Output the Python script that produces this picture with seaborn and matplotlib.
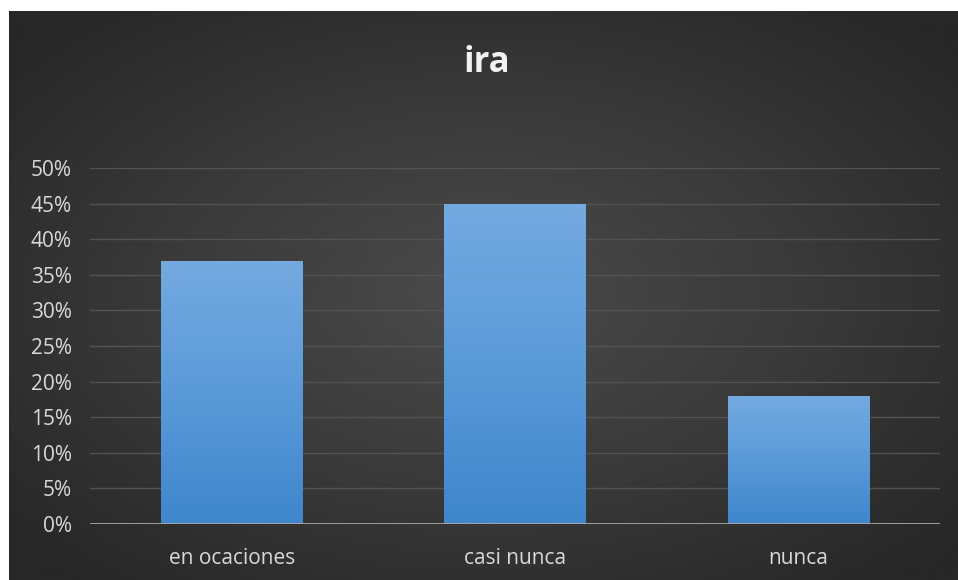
import numpy as np
import pandas as pd
import seaborn as sns
import matplotlib.pyplot as plt
from matplotlib.colors import LinearSegmentedColormap

# chart data
categories = ['en ocaciones', 'casi nunca', 'nunca']
values = [0.37, 0.45, 0.18]
y_ticks = [0, 0.05, 0.10, 0.15, 0.20, 0.25, 0.30, 0.35, 0.40, 0.45, 0.50]
y_tick_labels = ['0%', '5%', '10%', '15%', '20%', '25%', '30%', '35%', '40%', '45%', '50%']
title = 'ira'

df = pd.DataFrame({'cat': categories, 'val': values})

sns.set_style('dark')
plt.rcParams['font.family'] = ['Open Sans', 'DejaVu Sans']

fig = plt.figure(figsize=(9.58, 5.80), dpi=100)
fig.patch.set_facecolor('white')

# dark radial background
bg = fig.add_axes([9 / 958, 0, 949 / 958, 569 / 580])
yy, xx = np.mgrid[-1:1:300j, -1:1:500j]
r = np.sqrt((xx * 0.95) ** 2 + (yy * 0.95) ** 2)
bg_cmap = LinearSegmentedColormap.from_list('bg', ['#4b4b4b', '#3a3a3a', '#272727'])
bg.imshow(np.clip(r / 1.25, 0, 1), cmap=bg_cmap, aspect='auto', extent=[0, 1, 0, 1], vmin=0, vmax=1)
bg.set_axis_off()

ax = fig.add_axes([90 / 958, 56 / 580, 850 / 958, 356 / 580])
ax.patch.set_alpha(0)
sns.barplot(data=df, x='cat', y='val', color='#5b9bd5', width=0.5, ax=ax,
            zorder=3, edgecolor='none', linewidth=0)

# vertical gradient inside bars
bar_cmap = LinearSegmentedColormap.from_list('bar', ['#3f86cb', '#5a9ad9', '#74aae0'])
grad = np.linspace(0, 1, 256).reshape(-1, 1)
for p in ax.patches:
    x0, y0 = p.get_x(), p.get_y()
    w, h = p.get_width(), p.get_height()
    im = ax.imshow(grad, cmap=bar_cmap, origin='lower', aspect='auto',
                   extent=[x0, x0 + w, y0, y0 + h], zorder=4)
    im.set_clip_path(p)
ax.set_xlim(-0.5, 2.5)
ax.set_ylim(0, 0.5)

ax.set_yticks(y_ticks)
ax.set_yticklabels(y_tick_labels)
ax.grid(axis='y', color='#535353', linewidth=1, zorder=0)
ax.grid(axis='x', visible=False)
ax.axhline(0, color='#a6a6a6', linewidth=2, zorder=5)
for s in ax.spines.values():
    s.set_visible(False)
ax.tick_params(axis='both', length=0, labelsize=15, labelcolor='#d9d9d9')
ax.tick_params(axis='x', pad=17)
ax.tick_params(axis='y', pad=13)
ax.set_xlabel('')
ax.set_ylabel('')

fig.text(487 / 958, 1 - 63 / 580, title, ha='center', va='center',
         fontsize=25, fontweight='bold', color='#f2f2f2')

fig.savefig('out.png', dpi=100)
